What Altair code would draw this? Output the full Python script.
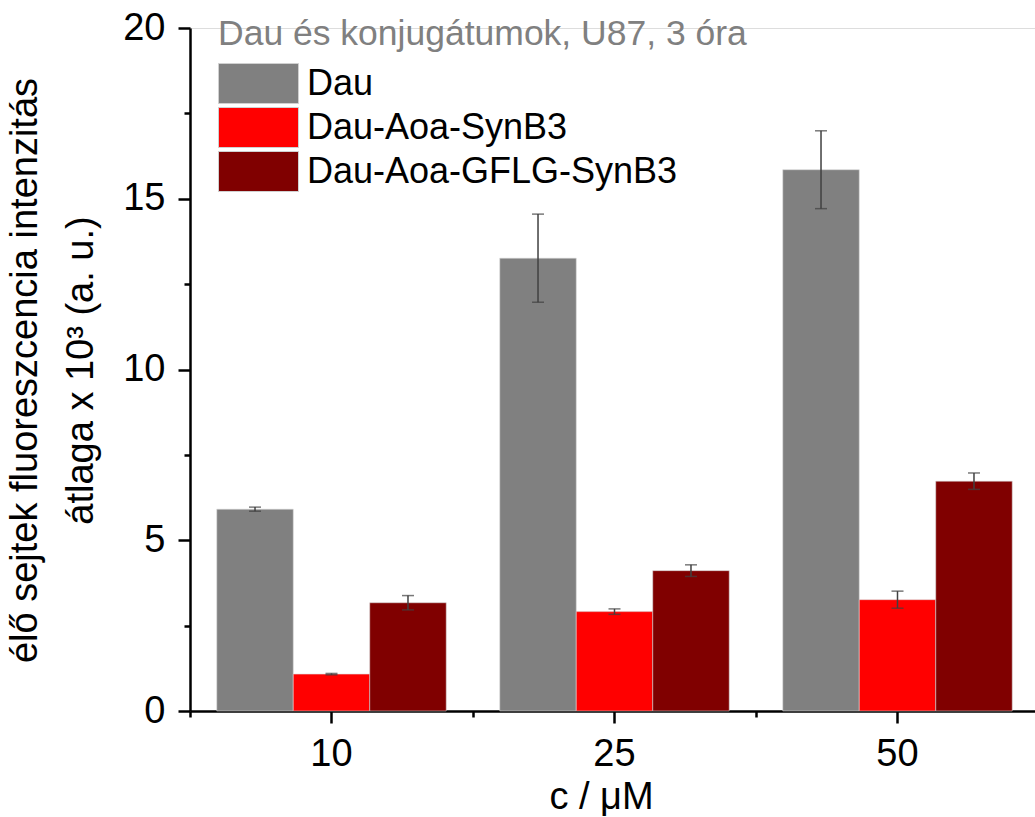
import altair as alt
import pandas as pd

# ---- data ----
concentrations = ["10", "25", "50"]
series_names = ["Dau", "Dau-Aoa-SynB3", "Dau-Aoa-GFLG-SynB3"]
dau_mean = [5.91, 13.26, 15.85]
dau_err = [0.06, 1.29, 1.14]
synb3_mean = [1.08, 2.91, 3.26]
synb3_err = [0.02, 0.08, 0.25]
gflg_mean = [3.17, 4.11, 6.73]
gflg_err = [0.21, 0.17, 0.24]
bar_colors = ["#808080", "#FF0000", "#800000"]
y_tick_values = [0, 2.5, 5, 7.5, 10, 12.5, 15, 17.5, 20]

rows = []
for name, means, errs in zip(series_names,
                             [dau_mean, synb3_mean, gflg_mean],
                             [dau_err, synb3_err, gflg_err]):
    for c, m, e in zip(concentrations, means, errs):
        rows.append({"c": c, "series": name, "mean": m, "err": e})
df = pd.DataFrame(rows)

FONT = "Liberation Sans"

x_scale = alt.Scale(range=[0, 849], paddingInner=0, paddingOuter=0)
xoff = alt.XOffset("series:N", sort=series_names,
                   scale=alt.Scale(paddingInner=0, paddingOuter=0.35))

y_enc = alt.Y(
    "mean:Q",
    scale=alt.Scale(domain=[0, 20], nice=False),
    axis=alt.Axis(
        values=y_tick_values,
        labelExpr="datum.value % 5 === 0 ? datum.label : ''",
        tickSize={"condition": {"test": "datum.value % 5 === 0", "value": 12}, "value": 6},
        tickWidth=2.5, tickColor="black",
        domainColor="black", domainWidth=2.5,
        labelFont=FONT, labelFontSize=38, labelColor="black", labelPadding=13,
        grid=False,
        title=["élő sejtek fluoreszcencia intenzitás", "átlaga x 10³ (a. u.)"],
        titleFont=FONT, titleFontSize=38, titleFontWeight="normal", titleColor="black",
        titleLineHeight=56, titleX=-146, titleY=342, titleBaseline="bottom",
        titleAlign="center",
    ),
)

bars = alt.Chart(df).mark_bar(stroke="#d8d8d8", strokeWidth=0.8, strokeOpacity=0.7).encode(
    x=alt.X("c:N", sort=concentrations, scale=x_scale,
            axis=alt.Axis(
                orient="bottom", labelAngle=0, labelFont=FONT, labelFontSize=38,
                labelColor="black", labelPadding=12,
                tickSize=12, tickWidth=2.5, tickColor="black",
                domainColor="black", domainWidth=2.5, grid=False,
                title="c / μM", titleFont=FONT, titleFontSize=38,
                titleFontWeight="normal", titleColor="black",
                titleX=411, titleY=97, titleBaseline="alphabetic", titleAlign="center",
            )),
    xOffset=xoff,
    y=y_enc,
    color=alt.Color("series:N", sort=series_names,
                    scale=alt.Scale(domain=series_names, range=bar_colors),
                    legend=alt.Legend(
                        title=None, orient="none", legendX=48, legendY=35,
                        direction="vertical", padding=0,
                        symbolType="M-2,-1H2V1H-2Z", symbolSize=1600,
                        symbolStrokeColor="#d0d0d0", symbolStrokeWidth=1,
                        symbolOpacity=1,
                        labelFont=FONT, labelFontSize=36, labelColor="black",
                        labelOffset=28, rowPadding=-1, labelLimit=800,
                    )),
)

err_base = alt.Chart(df).transform_calculate(
    lo="datum.mean - datum.err", hi="datum.mean + datum.err"
)

rules = err_base.mark_rule(color="#404040", strokeWidth=1.5).encode(
    x=alt.X("c:N", sort=concentrations, scale=x_scale,
            axis=alt.Axis(orient="bottom", labels=False, domain=False,
                          tickBand="extent", tickSize=6, tickWidth=2.5,
                          tickColor="black", grid=False, title=None)),
    xOffset=xoff,
    y=alt.Y("lo:Q"),
    y2="hi:Q",
)

cap_lo = err_base.mark_tick(color="#404040", thickness=1.5, size=12).encode(
    x=alt.X("c:N", sort=concentrations, scale=x_scale, axis=None),
    xOffset=xoff,
    y=alt.Y("lo:Q"),
)
cap_hi = err_base.mark_tick(color="#404040", thickness=1.5, size=12).encode(
    x=alt.X("c:N", sort=concentrations, scale=x_scale, axis=None),
    xOffset=xoff,
    y=alt.Y("hi:Q"),
)

chart = alt.layer(bars, rules, cap_lo, cap_hi).resolve_axis(
    x="independent"
).properties(
    width=845, height=683,
    padding={"left": 190, "top": 28, "right": 0, "bottom": 106},
    autosize=alt.AutoSizeParams(type="none"),
    title=alt.TitleParams(
        text="Dau és konjugátumok, U87, 3 óra", anchor="start", frame="group",
        orient="top", fontSize=35.5, font=FONT, fontWeight="normal",
        color="#808080", dx=28, offset=-71, baseline="alphabetic",
    ),
).configure_view(stroke=None).configure(background="white")

chart.save("out.html", embed_options={"renderer": "svg", "actions": False})
